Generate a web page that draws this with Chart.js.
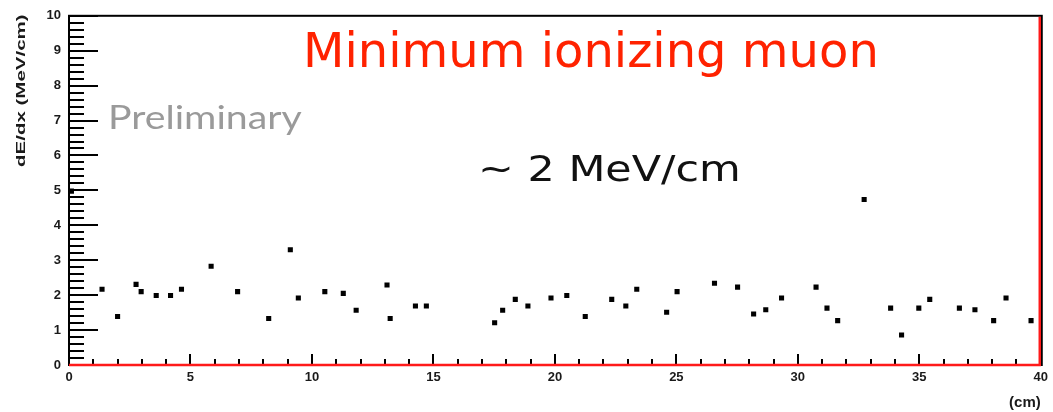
<!DOCTYPE html>
<html>
<head>
<meta charset="utf-8">
<script src="https://cdn.jsdelivr.net/npm/chart.js@4.4.1/dist/chart.umd.min.js"></script>
<style>
  html, body { margin: 0; padding: 0; background: #fff; }
  #wrap { width: 1053px; height: 412px; }
</style>
</head>
<body>
<div id="wrap"><canvas id="dedx"></canvas></div>
<script>
// track position along the muon (cm) and measured dE/dx (MeV/cm)
const posCm = [0.1, 1.36, 2.0, 2.76, 2.97, 3.59, 4.18, 4.63, 5.85, 6.94,
               8.22, 9.11, 9.44, 10.53, 11.29, 11.82, 13.09, 13.22, 14.26, 14.71,
               17.52, 17.85, 18.37, 18.89, 19.84, 20.49, 21.25, 22.34, 22.92, 23.37,
               24.6, 25.03, 26.57, 27.52, 28.18, 28.68, 29.33, 30.75, 31.2, 31.64,
               32.73, 33.82, 34.27, 34.98, 35.43, 36.65, 37.29, 38.06, 38.57, 39.6];
const dEdx = [4.98, 2.17, 1.39, 2.31, 2.1, 1.99, 1.99, 2.17, 2.83, 2.1,
              1.33, 3.3, 1.92, 2.1, 2.05, 1.57, 2.29, 1.33, 1.69, 1.69,
              1.21, 1.57, 1.88, 1.69, 1.92, 1.99, 1.39, 1.88, 1.69, 2.17,
              1.51, 2.1, 2.34, 2.23, 1.46, 1.58, 1.92, 2.23, 1.63, 1.27,
              4.74, 1.63, 0.86, 1.63, 1.88, 1.63, 1.58, 1.27, 1.92, 1.27];

const xRange = [0, 40];
const yRange = [0, 10];
const xTitle = '(cm)';
const yTitle = 'dE/dx (MeV/cm)';

const points = posCm.map((x, i) => ({ x: x, y: dEdx[i] }));

const tickFont = { family: '"Liberation Sans Narrow", "Liberation Sans", Arial, sans-serif', weight: 'bold', size: 13 };

// ROOT-like frame: inward ticks, black box, red line on bottom/right
const framePlugin = {
  id: 'rootFrame',
  afterDatasetsDraw(chart) {
    const c = chart.ctx;
    const a = chart.chartArea;
    const xs = chart.scales.x, ys = chart.scales.y;
    c.save();
    c.strokeStyle = '#000';
    c.lineWidth = 2;
    for (let i = 0; i <= 50; i++) {
      const py = Math.round(ys.getPixelForValue(i / 5));
      const len = i % 5 === 0 ? 29 : 15;
      c.beginPath(); c.moveTo(a.left, py); c.lineTo(a.left + len, py); c.stroke();
    }
    for (let i = 0; i <= 40; i++) {
      const px = Math.round(xs.getPixelForValue(i));
      const len = i % 5 === 0 ? 11 : 6;
      c.beginPath(); c.moveTo(px, a.bottom); c.lineTo(px, a.bottom - len); c.stroke();
    }
    c.strokeRect(a.left, a.top, a.right - a.left + 1, a.bottom - a.top);
    c.strokeStyle = '#ff1a1a';
    c.lineWidth = 2.5;
    c.beginPath();
    c.moveTo(a.left, a.bottom);
    c.lineTo(a.right - 1, a.bottom);
    c.lineTo(a.right - 1, a.top + 1);
    c.stroke();
    c.restore();
  },
  afterDraw(chart) {
    const c = chart.ctx;
    c.save();
    c.textBaseline = 'alphabetic';
    c.textAlign = 'left';

    // y axis title, rotated and squeezed across
    c.save();
    c.translate(25, 167);
    c.rotate(-Math.PI / 2);
    c.scale(1, 0.6);
    c.font = 'bold 20.5px "Liberation Sans", Arial, sans-serif';
    c.fillStyle = '#1a1a1a';
    c.fillText(yTitle, 0, 0);
    c.restore();

    c.fillStyle = '#ff2200';
    c.font = '48px "DejaVu Sans", Verdana, sans-serif';
    c.fillText('Minimum ionizing muon', 303, 67);

    c.save();
    c.translate(108, 129);
    c.scale(1.19, 1);
    c.fillStyle = '#9a9a9a';
    c.font = '33px Lato, "Open Sans", sans-serif';
    c.fillText('Preliminary', 0, 0);
    c.restore();

    c.save();
    c.translate(478, 181);
    c.scale(1.19, 1);
    c.fillStyle = '#111';
    c.font = '36px "DejaVu Sans", Verdana, sans-serif';
    c.fillText('~ 2 MeV/cm', 0, 0);
    c.restore();

    c.restore();
  }
};

new Chart(document.getElementById('dedx'), {
  type: 'scatter',
  data: {
    datasets: [{
      data: points,
      pointStyle: 'rect',
      pointRadius: 3.6,
      pointBorderWidth: 0,
      backgroundColor: '#000',
      borderColor: '#000'
    }]
  },
  options: {
    responsive: true,
    maintainAspectRatio: false,
    animation: false,
    events: [],
    layout: { padding: { top: 15, right: 5, left: 0, bottom: 0 } },
    plugins: { legend: { display: false }, tooltip: { enabled: false } },
    scales: {
      x: {
        type: 'linear',
        min: xRange[0],
        max: xRange[1],
        grid: { display: false, drawTicks: false },
        border: { display: false },
        ticks: { stepSize: 5, autoSkip: false, maxRotation: 0, padding: 5, color: '#1a1a1a', font: tickFont },
        title: {
          display: true,
          text: xTitle,
          align: 'end',
          color: '#1a1a1a',
          font: { family: '"Liberation Sans Narrow", "Liberation Sans", Arial, sans-serif', weight: 'bold', size: 15 },
          padding: { top: 5, bottom: 0 }
        },
        afterFit(scale) { scale.height = 47; }
      },
      y: {
        type: 'linear',
        min: yRange[0],
        max: yRange[1],
        grid: { display: false, drawTicks: false },
        border: { display: false },
        ticks: { stepSize: 1, autoSkip: false, padding: 8, color: '#1a1a1a', font: tickFont },
        afterFit(scale) { scale.width = 69; }
      }
    }
  },
  plugins: [framePlugin]
});
</script>
</body>
</html>
